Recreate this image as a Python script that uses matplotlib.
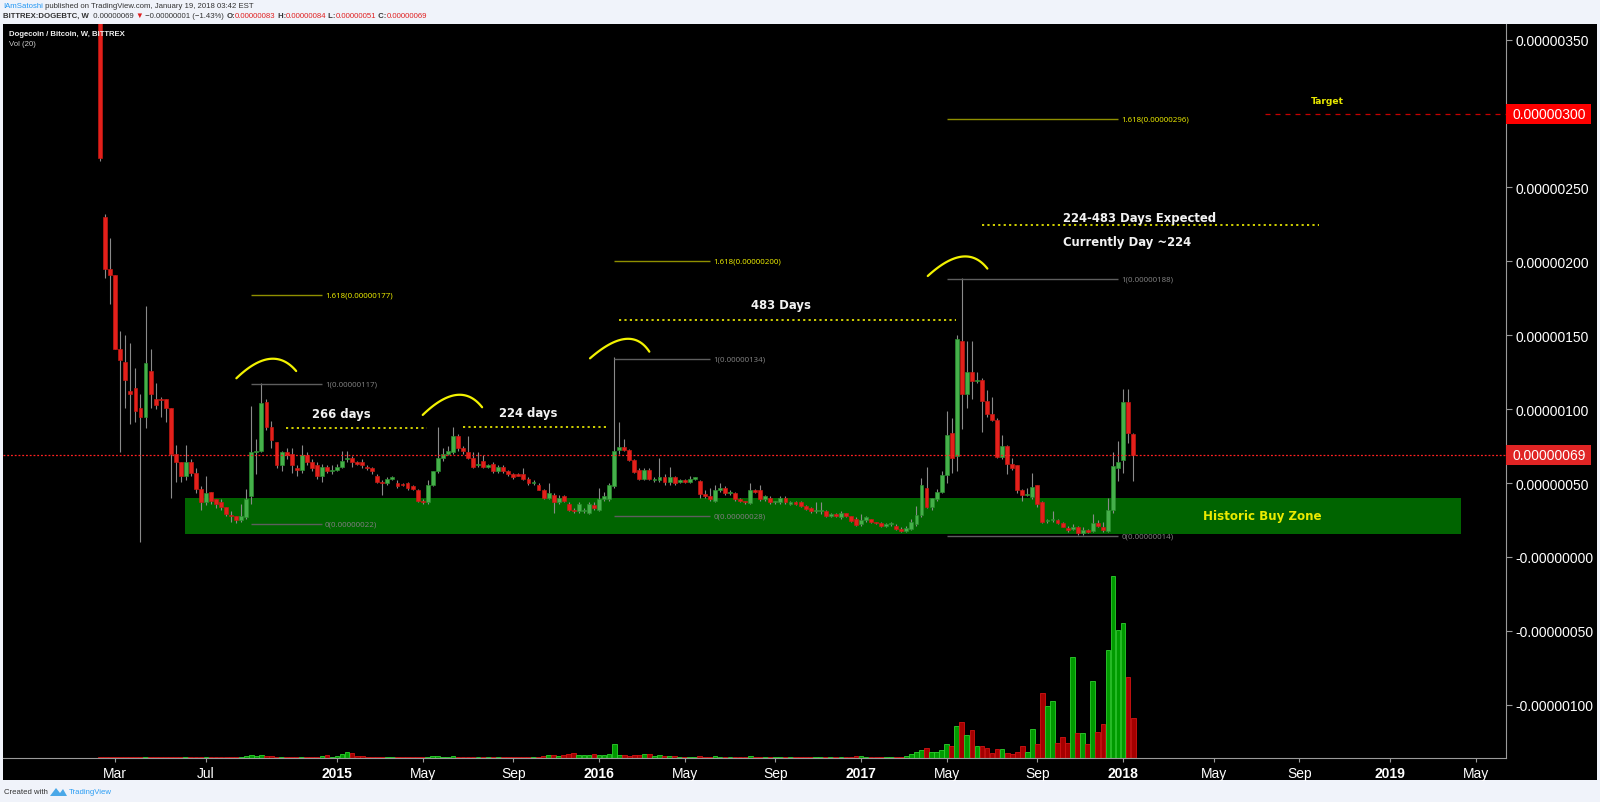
import datetime as dt
import numpy as np
import matplotlib
matplotlib.use('Agg')
import matplotlib.pyplot as plt
import matplotlib.dates as mdates
from matplotlib.patches import Rectangle, Polygon
from matplotlib.transforms import blended_transform_factory, offset_copy

plt.rcParams['font.family'] = ['Liberation Sans', 'DejaVu Sans']

# Weekly DOGE/BTC candles, prices in satoshi (1e-8 BTC)
first_week = dt.date(2014, 2, 10)
opens = [520, 230, 195, 191, 141, 132, 112, 114, 101, 95,
         126, 107, 107, 107, 101, 70, 64, 55, 64, 57,
         46, 37, 44, 39, 37, 34, 28, 28, 25, 27,
         41, 71, 72, 105, 88, 78, 62, 71, 70, 60,
         59, 69, 64, 62, 55, 61, 58, 59, 61, 66,
         67, 64, 64, 61, 60, 55, 51, 50, 53, 50,
         49, 50, 48, 45.5, 38, 37, 49, 58, 67, 70,
         71, 82, 74, 71, 67, 62, 65, 61, 63, 58,
         61, 58, 56, 56, 56, 53, 50, 49, 45.5, 40,
         42, 37, 41, 36, 32, 31, 31, 30, 35, 32,
         39, 39, 48, 72.6, 74.6, 72.6, 65.8, 59, 53, 59,
         52, 52, 54, 50.5, 54, 51, 52, 51, 53, 51.6,
         42.6, 41.5, 38, 45, 47, 43, 43, 39, 38, 36.6,
         45, 45, 39.5, 40, 37, 37, 40, 36, 37, 37,
         34.5, 33, 31, 31, 31, 28, 29, 27, 29.5, 27.5,
         26, 22, 25, 25.5, 23.5, 23, 21, 22, 21, 19,
         17.5, 18.6, 22.3, 28.4, 47, 33.6, 39, 44, 55.7, 84,
         68.5, 146, 110, 125, 119, 119.8, 105.8, 96.7, 93, 67.5,
         75, 62.6, 62, 45, 42, 40.6, 48.7, 37, 24.5, 25,
         25, 23.2, 19.8, 19, 20, 16, 18, 17.6, 23.3, 20,
         17.8, 31.8, 60.5, 65.8, 104.7, 83]
highs = [560, 232, 216, 191, 153, 150, 145, 128, 110, 170,
         141, 118, 108, 107, 101, 76, 64, 76, 66, 60,
         48, 55, 44, 39, 39, 34, 31, 28, 36, 46,
         102, 80, 118, 107, 92, 78, 72, 74, 74, 62,
         76, 71, 66, 64, 63, 62, 62, 63, 72, 72,
         68, 65, 66, 62, 61, 56, 52, 54, 55, 52,
         50, 51, 49, 46, 39, 52, 58, 88, 74, 75,
         88, 83, 75, 82, 71, 71, 69, 63, 64, 62,
         62, 59, 57, 57, 60, 54, 52, 50, 46, 50,
         43, 42, 42, 37, 33, 37, 33, 37, 37, 47,
         44, 50, 135, 91, 80, 73, 66, 60, 60, 60,
         54, 67, 56, 61, 55, 53, 53, 55, 54, 52,
         45, 47, 49, 50, 48, 45, 44, 40, 38, 50,
         46, 49, 42, 41, 38, 41, 41, 38, 38, 38,
         35, 34, 37, 37, 32, 30, 30, 31, 30, 28,
         27, 29, 28, 26, 24, 24, 23, 24, 22, 20,
         21, 26, 34.7, 53.4, 61, 40, 46, 58, 99, 94,
         150, 189, 146.4, 146, 125, 121, 113, 108, 94, 82.5,
         76, 67, 62, 46, 47, 56.8, 49, 38, 26, 31,
         26, 24, 21, 22, 21, 20, 19, 29, 25, 24,
         40, 70.8, 78.7, 113.7, 113.7, 84]
lows = [268, 189, 171, 141, 71, 101, 90, 91, 10, 87,
        101, 100, 95, 91, 40, 51, 51, 52, 55, 43,
        32, 35, 36, 33, 32, 28, 24, 23, 24, 26,
        36, 56, 71, 86, 74, 60, 58, 66, 57, 55,
        57, 62, 58, 53, 51, 57, 56, 58, 60, 64,
        61, 62, 60, 59, 56, 50, 42, 49, 52, 47,
        48, 45, 45, 37, 36, 36, 48, 57, 65, 69,
        70, 72, 70, 66, 60, 61, 60, 60, 57, 57,
        57, 55, 53, 55, 52, 49, 49, 45, 39, 39,
        30, 36, 37, 31, 30, 30, 30, 29, 32, 31,
        38, 38, 47, 70, 72, 65, 57, 52, 52, 52,
        51, 51, 49, 49, 49, 50, 50, 50, 52, 40,
        40, 38, 37, 44, 42, 42, 38, 37, 36, 36,
        43, 38, 38, 36, 36, 36, 36, 35, 35, 34,
        32, 30, 30, 29, 27, 27, 27, 26, 27, 24,
        21, 21, 24, 23, 22, 20, 20, 21, 18, 17,
        17, 18, 21, 27, 33, 32, 38, 43, 50, 57,
        58, 86.6, 101, 107, 118, 84.6, 95, 92, 67, 66,
        56, 59, 43, 38, 41, 39, 34, 23, 23, 24,
        22, 20, 17, 18, 15, 15, 16, 17, 20, 17,
        17, 30, 51.7, 57, 77, 51.7]
closes = [270, 195, 191, 141, 133, 120, 110, 99, 95, 131,
          110, 103, 106, 101, 70, 64, 55, 64, 57, 46,
          37, 43, 38, 36, 34, 29, 27.5, 25, 28, 39,
          71, 72, 104, 88, 79, 62, 71, 69, 62, 59,
          69, 64, 60, 55, 61, 58, 59, 61, 65, 67,
          64, 63, 62, 60, 58, 51, 50, 53, 54, 48,
          48.4, 47, 46, 38, 37, 49, 58, 67, 70, 72,
          82, 74, 72, 67, 61, 63, 61, 62, 58, 61,
          58, 56, 54, 55, 53, 50, 50.5, 45.5, 40, 43,
          37, 40, 38, 32, 31, 36, 32, 36, 33, 39,
          41, 49, 72, 74.6, 72.6, 65.8, 57.7, 53, 59, 52.5,
          52.5, 54, 50.5, 54, 50, 52, 51, 53, 53.5, 42.6,
          41, 39, 45, 47, 43, 44, 39, 38, 37, 45,
          44, 39.5, 41, 37, 37.5, 40, 37, 37, 36, 34.5,
          32.7, 31, 32, 31.5, 27.7, 29, 27.6, 29.5, 27.5, 24.5,
          21.8, 25, 27, 23.5, 23, 21, 22, 22.5, 18.6, 17.3,
          19.5, 24, 28.4, 48.7, 33.6, 40, 44, 55.7, 82.5, 67,
          147.5, 110, 125, 119, 119.5, 105.8, 96.7, 93, 67.5, 75,
          62.6, 60, 45, 41.6, 42.5, 47.4, 35.9, 23.7, 25, 25.5,
          22.7, 20.2, 18, 20, 16, 18, 17, 23.3, 21, 18,
          31.8, 61.8, 64.5, 104.7, 84, 69]
volumes = [1.5, 1.2, 1.0, 1.0, 1.2, 0.8, 0.8, 0.7, 1.0, 1.2,
           0.8, 0.6, 0.6, 0.6, 1.0, 0.8, 0.6, 0.8, 0.6, 1.0,
           1.0, 1.5, 0.8, 0.8, 0.7, 0.8, 0.8, 0.7, 1.0, 1.8,
           3.0, 2.2, 3.5, 2.5, 1.8, 1.5, 1.5, 1.2, 1.5, 1.0,
           1.5, 1.2, 1.0, 1.5, 2.0, 3.0, 1.5, 2.5, 4.0, 6.5,
           5.0, 2.0, 1.8, 1.5, 1.2, 1.5, 1.5, 1.0, 1.0, 1.2,
           0.8, 1.0, 1.0, 1.5, 1.0, 1.5, 2.0, 2.5, 1.5, 1.2,
           2.5, 1.5, 1.0, 1.2, 1.0, 0.8, 1.0, 0.7, 1.0, 0.8,
           1.0, 0.8, 0.8, 0.7, 1.0, 1.2, 0.8, 1.5, 1.8, 3.0,
           3.5, 2.5, 3.0, 4.5, 5.0, 3.5, 3.0, 3.5, 4.0, 3.5,
           3.0, 4.0, 14.0, 3.5, 3.0, 2.5, 3.0, 3.0, 4.0, 4.5,
           2.0, 3.0, 2.0, 2.5, 2.0, 1.5, 1.5, 1.2, 1.0, 2.0,
           1.5, 1.5, 1.8, 1.2, 1.0, 1.0, 1.5, 1.2, 0.8, 2.0,
           1.0, 1.2, 1.0, 0.8, 0.8, 1.0, 1.0, 0.8, 0.8, 0.8,
           1.0, 1.2, 1.5, 1.0, 1.2, 1.0, 1.2, 1.0, 1.0, 1.2,
           2.0, 2.0, 1.5, 1.5, 1.5, 1.2, 1.5, 1.5, 1.5, 1.5,
           2.0, 4.0, 6.0, 8.0, 10.0, 6.0, 6.0, 8.0, 14.0, 12.0,
           32, 36, 23, 28, 12, 12, 10, 5, 9, 9,
           5, 4, 6, 12, 6, 29, 14, 65, 52, 57,
           15, 21, 15, 101, 25, 25, 14, 77, 26, 34,
           108, 182, 128, 135, 81, 40]

# price axis (satoshi) and its labels
price_ticks = [350, 300, 250, 200, 150, 100, 50, 0, -50, -100]
price_labels = ['0.00000350', '', '0.00000250', '0.00000200', '0.00000150',
                '0.00000100', '0.00000050', '-0.00000000', '-0.00000050', '-0.00000100']
last_close = 69
target = 300

# time axis labels
tick_dates = ['2014-03-03', '2014-07-07', '2015-01-05', '2015-05-04', '2015-09-07',
              '2016-01-04', '2016-05-02', '2016-09-05', '2017-01-02', '2017-05-01',
              '2017-09-04', '2018-01-01', '2018-05-07', '2018-09-03', '2019-01-07',
              '2019-05-06']
tick_labels = ['Mar', 'Jul', '2015', 'May', 'Sep', '2016', 'May', 'Sep', '2017',
               'May', 'Sep', '2018', 'May', 'Sep', '2019', 'May']

# fibonacci extensions drawn on the chart
fib_levels = [[177, 117, 22], [200, 134, 28], [296, 188, 14]]

W, H = 1600, 803
fig = plt.figure(figsize=(W / 100, H / 100), dpi=100)
fig.patch.set_facecolor('#f0f3fa')


def fx(px):
    return px / W


def fy(py):
    return 1 - py / H


# black chart panel
fig.add_artist(Rectangle((fx(3), fy(781)), fx(1597) - fx(3), fy(25) - fy(781),
                         transform=fig.transFigure, facecolor='black',
                         edgecolor='none', zorder=-10))

pos = [fx(3), fy(759), (1506 - 3) / W, (759 - 25) / H]
axv = fig.add_axes(pos)
axv.set_zorder(0.5)
ax = fig.add_axes(pos)
ax.set_zorder(1)
ax.set_facecolor('none')
axv.set_facecolor('none')

base = mdates.date2num(dt.date(2015, 1, 5))


def day(n):
    return base + n


xlim = (day(-464), day(1624))
ax.set_xlim(*xlim)
ax.set_ylim(-136, 360.6)

x = np.array([mdates.date2num(first_week + dt.timedelta(weeks=i)) for i in range(len(closes))])
o = np.array(opens, float)
h = np.array(highs, float)
l = np.array(lows, float)
c = np.array(closes, float)
up = c >= o

# volume pane
axv.bar(x, volumes, width=6.6, color=np.where(up, '#009a00', '#a50000'),
        edgecolor=np.where(up, '#2ed02e', '#d41414'), linewidth=0.6)
axv.set_xlim(*xlim)
axv.set_ylim(0, 734)
axv.axis('off')

bold = dict(fontweight='bold', family='DejaVu Sans')

# historic buy zone
ax.add_patch(Rectangle((day(-210.8), 15.6), day(1561.7) - day(-210.8), 24.1,
                       facecolor='#006400', edgecolor='none', zorder=1))
ax.text(day(1285), 27.9, 'Historic Buy Zone', color='#eaea00', fontsize=8.6,
        ha='center', va='center', zorder=6, **bold)

# candles
body_lo = np.minimum(o, c)
body_hi = np.maximum(o, c)
ax.vlines(x, np.minimum(l, body_lo), np.maximum(h, body_hi), color='#8a8a8a', lw=0.8, zorder=3)
ax.bar(x, np.maximum(body_hi - body_lo, 0.8), bottom=body_lo, width=5.4,
       color=np.where(up, '#45b04a', '#e3201b'),
       edgecolor=np.where(up, '#2a8c2e', '#c21812'), linewidth=0.5, zorder=4)

# fib extensions
fib_spans = [(-119.5, -21.3), (384.9, 518.3), (847.2, 1085.6)]
for (x0, x1), levels in zip(fib_spans, fib_levels):
    for val, tag in zip(levels, ['1.618', '1', '0']):
        yellow = tag == '1.618'
        ax.hlines(val, day(x0), day(x1), color='#8f8f00' if yellow else '#5e5e5e', lw=1, zorder=5)
        ax.text(day(x1 + 4.6), val, '%s(%.8f)' % (tag, val * 1e-8),
                color='#e6e600' if yellow else '#7c7c7c', fontsize=5.7,
                family='Noto Sans', ha='left', va='center', zorder=6)

# cycle lengths
dot = (0, (1.2, 1.8))
ax.hlines(87.3, day(-70.9), day(125.5), colors='#e0e000', linestyles=dot, lw=1.3, zorder=5)
ax.hlines(87.8, day(174.7), day(375.6), colors='#e0e000', linestyles=dot, lw=1.3, zorder=5)
ax.hlines(160.6, day(391.8), day(860.1), colors='#e0e000', linestyles=dot, lw=1.3, zorder=5)
ax.hlines(224.4, day(896.6), day(1364.5), colors='#e0e000', linestyles=dot, lw=1.3, zorder=5)
txt = dict(color='#f2f2f2', fontsize=8.4, va='center', zorder=6, **bold)
ax.text(day(6.5), 97.4, '266 days', ha='center', **txt)
ax.text(day(265), 97.9, '224 days', ha='center', **txt)
ax.text(day(616.5), 170.7, '483 Days', ha='center', **txt)
ax.text(day(1009.2), 229.8, '224-483 Days Expected', ha='left', **txt)
ax.text(day(1009.2), 213.6, 'Currently Day ~224', ha='left', **txt)

# hand drawn arcs over the tops
arcs = [[(-139.8, 120.9), (-93.8, 134.0), (-56.7, 125.8)],
        [(119.1, 96.1), (165.5, 109.6), (201.6, 101.3)],
        [(351.5, 134.4), (400.2, 147.5), (433.9, 138.9)],
        [(820.7, 190.1), (867.9, 203.2), (903.5, 195.1)]]
t = np.linspace(0, 1, 40)[:, None]
for p0, p1, p2 in arcs:
    p0, p1, p2 = np.array(p0), np.array(p1), np.array(p2)
    ctrl = 2 * p1 - 0.5 * (p0 + p2)
    curve = (1 - t) ** 2 * p0 + 2 * t * (1 - t) * ctrl + t ** 2 * p2
    ax.plot(day(curve[:, 0]), curve[:, 1], color='#f2f200', lw=1.6, zorder=6,
            solid_capstyle='round')

# last close and target
ax.axhline(last_close, color='#ff2020', lw=0.9, linestyle=(0, (1.5, 1.5)), zorder=5)
ax.hlines(target, day(1289.4), xlim[1], colors='#c80000', lw=0.9, linestyles=(0, (4, 4)), zorder=5)
ax.text(day(1376.5), 309, 'Target', color='#e6e600', fontsize=6.6,
        ha='center', va='center', zorder=6, **bold)

# axes styling
for side in ['top', 'left']:
    ax.spines[side].set_visible(False)
for side in ['right', 'bottom']:
    ax.spines[side].set_color('#9a9a9a')
ax.yaxis.tick_right()
ax.set_yticks(price_ticks)
ax.set_yticklabels(price_labels)
ax.tick_params(axis='y', length=4, color='#9a9a9a', labelcolor='white', labelsize=10, pad=3)
ax.set_xticks([mdates.date2num(dt.date.fromisoformat(s)) for s in tick_dates])
ax.set_xticklabels(tick_labels)
for lab in ax.get_xticklabels():
    if lab.get_text().isdigit():
        lab.set_fontweight('bold')
ax.tick_params(axis='x', length=3, color='#9a9a9a', labelcolor='white', labelsize=10, pad=3)

# price boxes on the right scale
trans = blended_transform_factory(ax.transAxes, ax.transData)
for val, col in [(target, '#ff0000'), (last_close, '#e02424')]:
    ax.add_patch(Rectangle((1.0, val - 6.8), 85 / 1503, 13.6, transform=trans,
                           facecolor=col, edgecolor='none', clip_on=False, zorder=7))
    ax.text(1.0, val, '%.8f' % (val * 1e-8), transform=offset_copy(trans, fig=fig, x=7, y=0, units='dots'),
            color='white', fontsize=10, ha='left', va='center', clip_on=False, zorder=8)

# header, legend and footer
renderer = fig.canvas.get_renderer()


def write_row(parts, x_px, y_px, size):
    for s, color, weight in parts:
        tt = fig.text(fx(x_px), fy(y_px), s, color=color, fontsize=size,
                      fontweight=weight, ha='left', va='center')
        x_px += tt.get_window_extent(renderer).width


dark = '#333333'
red = '#e02020'
write_row([('IAmSatoshi', '#2196f3', 'normal'),
           (' published on TradingView.com, January 19, 2018 03:42 EST', dark, 'normal')], 3, 6.5, 5.6)
write_row([('BITTREX:DOGEBTC, W', dark, 'bold'), ('  0.00000069 ', dark, 'normal'),
           ('\u25bc', red, 'normal'), (' \u22120.00000001 (\u22121.43%) ', dark, 'normal'),
           ('O:', dark, 'bold'), ('0.00000083', red, 'normal'),
           (' H:', dark, 'bold'), ('0.00000084', red, 'normal'),
           (' L:', dark, 'bold'), ('0.00000051', red, 'normal'),
           (' C:', dark, 'bold'), ('0.00000069', red, 'normal')], 3, 16.5, 5.6)
fig.text(fx(9), fy(35), 'Dogecoin / Bitcoin, W, BITTREX', color='#eeeeee', fontsize=5.6,
         fontweight='bold', ha='left', va='center')
fig.text(fx(9), fy(44), 'Vol (20)', color='#cccccc', fontsize=5.6, ha='left', va='center')

fig.text(fx(4), fy(793), 'Created with', color=dark, fontsize=5.6, ha='left', va='center')
fig.add_artist(Polygon([(fx(50), fy(797)), (fx(56), fy(789)), (fx(60), fy(794)),
                        (fx(63), fy(790)), (fx(67), fy(797))], closed=True,
                       transform=fig.transFigure, facecolor='#4aa8e8', edgecolor='none'))
fig.text(fx(69), fy(793), 'TradingView', color='#2a9df4', fontsize=5.6, ha='left', va='center')

fig.savefig('out.png', dpi=100, facecolor=fig.get_facecolor())
